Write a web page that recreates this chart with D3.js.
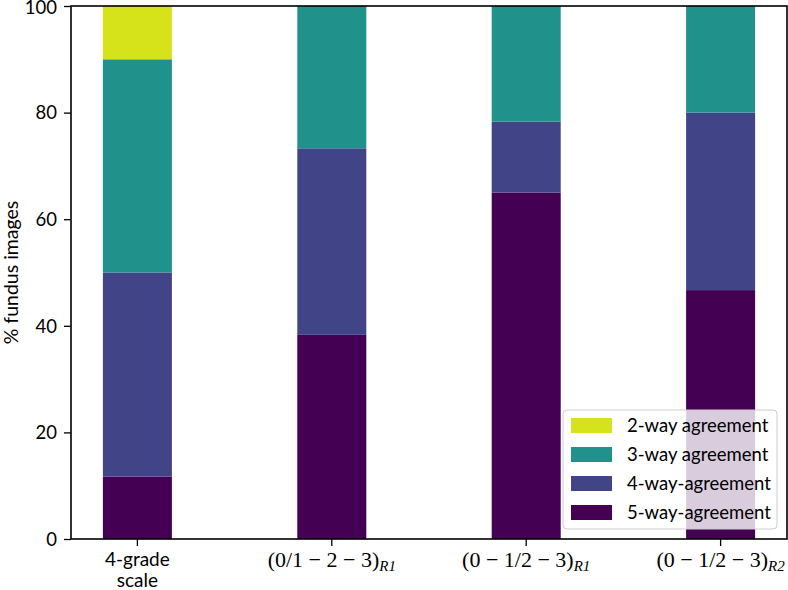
<!DOCTYPE html>
<html><head><meta charset="utf-8">
<script src="https://cdn.jsdelivr.net/npm/d3@7"></script>
<style>body{margin:0;background:#fff}svg{display:block}</style>
</head><body>
<svg id="c" width="788" height="590"></svg>
<script>
const categories = ["4-grade scale", "(0/1-2-3)R1", "(0-1/2-3)R1", "(0-1/2-3)R2"];
const labelMain = [["4-grade", "scale"], ["(0/1 \u2212 2 \u2212 3)"], ["(0 \u2212 1/2 \u2212 3)"], ["(0 \u2212 1/2 \u2212 3)"]];
const labelSub = ["", "R1", "R1", "R2"];
const seriesNames = ["5-way-agreement", "4-way-agreement", "3-way agreement", "2-way agreement"];
const fiveWay = [11.7, 38.3, 65.0, 46.7];
const fourWay = [38.3, 35.0, 13.3, 33.3];
const threeWay = [40.0, 26.7, 21.7, 20.0];
const twoWay = [10.0, 0, 0, 0];
const yTicks = [0, 20, 40, 60, 80, 100];
const colors = ["#440154", "#414487", "#21918c", "#d6e21a"];

const table = categories.map((c, i) => ({cat: c, s0: fiveWay[i], s1: fourWay[i], s2: threeWay[i], s3: twoWay[i]}));
const keys = ["s0", "s1", "s2", "s3"];
const stacked = d3.stack().keys(keys)(table);

const svg = d3.select("#c");
const L = 71, R = 787, T = 6, B = 539;
const font = "Lato, 'Open Sans', sans-serif";

const x = d3.scaleBand().domain(categories).range([L, R]).paddingInner(0.645).paddingOuter(0.164);
const y = d3.scaleLinear().domain([0, 100]).range([B, T]);

// bars
const g = svg.append("g");
stacked.forEach((layer, li) => {
  g.selectAll(null).data(layer).enter().append("rect")
    .attr("x", d => x(d.data.cat))
    .attr("width", x.bandwidth())
    .attr("y", d => y(d[1]))
    .attr("height", d => y(d[0]) - y(d[1]))
    .attr("fill", colors[li]);
});

// y axis
const yAxis = d3.axisLeft(y).tickValues(yTicks).tickSize(7).tickPadding(7);
const ya = svg.append("g").attr("transform", `translate(${L},0)`).call(yAxis);
ya.select(".domain").remove();
ya.selectAll(".tick line").attr("stroke", "#000").attr("stroke-width", 1.3);
ya.selectAll(".tick text").attr("font-family", font).attr("font-size", 18.5).attr("fill", "#000")
  .attr("dy", "0.34em")
  .attr("y", d => d === 100 ? 1.5 : 0);

// x axis
const xAxis = d3.axisBottom(x).tickSize(7).tickFormat("");
const xa = svg.append("g").attr("transform", `translate(0,${B})`).call(xAxis);
xa.select(".domain").remove();
xa.selectAll(".tick line").attr("stroke", "#000").attr("stroke-width", 1.3);

// x labels
categories.forEach((c, i) => {
  const cx = x(c) + x.bandwidth() / 2;
  if (!labelSub[i]) {
    const t = svg.append("text").attr("text-anchor", "middle")
      .attr("font-family", font).attr("font-size", 19).attr("fill", "#000");
    labelMain[i].forEach((ln, k) => {
      t.append("tspan").attr("x", cx).attr("y", 566 + k * 21).text(ln);
    });
  } else {
    const t = svg.append("text").attr("text-anchor", "middle").attr("x", cx).attr("y", 567)
      .attr("font-family", "'Liberation Serif', 'DejaVu Serif', serif").attr("font-size", 22).attr("fill", "#000");
    t.append("tspan").text(labelMain[i][0]);
    t.append("tspan").attr("font-size", 15).attr("font-style", "italic").attr("dy", 4).text(labelSub[i]);
  }
});

// spines
svg.append("rect").attr("x", L).attr("y", T).attr("width", R - L).attr("height", B - T)
  .attr("fill", "none").attr("stroke", "#000").attr("stroke-width", 1.6);

// y label
svg.append("text").attr("transform", `translate(17.5,${(T + B) / 2}) rotate(-90)`)
  .attr("text-anchor", "middle").attr("font-family", font).attr("font-size", 19.5).attr("fill", "#000")
  .text("% fundus images");

// legend
const lg = svg.append("g");
lg.append("rect").attr("x", 563).attr("y", 410).attr("width", 214).attr("height", 119)
  .attr("rx", 4).attr("fill", "#fff").attr("fill-opacity", 0.8).attr("stroke", "#ccc").attr("stroke-width", 1);
const legendOrder = [3, 2, 1, 0];
legendOrder.forEach((si, k) => {
  const yy = 418 + k * 29;
  lg.append("rect").attr("x", 571).attr("y", yy).attr("width", 41).attr("height", 15).attr("fill", colors[si]);
  lg.append("text").attr("x", 627).attr("y", yy + 14).attr("font-family", font).attr("font-size", 18.5)
    .attr("fill", "#000").text(seriesNames[si]);
});
</script>
</body></html>
